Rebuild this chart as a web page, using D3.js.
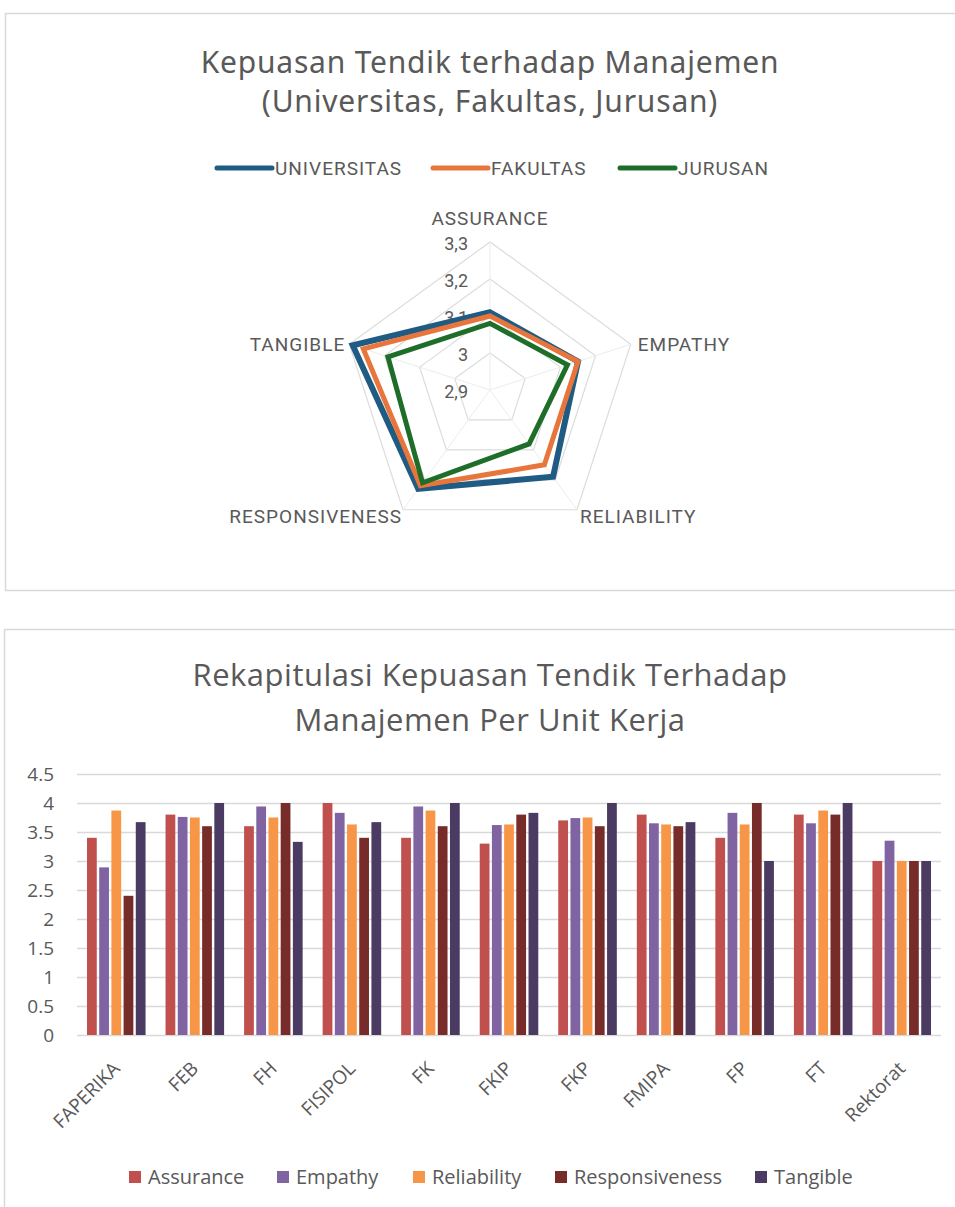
<!DOCTYPE html>
<html>
<head>
<meta charset="utf-8">
<script src="https://cdn.jsdelivr.net/npm/d3@7"></script>
<style>
  body { margin: 0; background: #fff; }
  svg { display: block; }
</style>
</head>
<body>
<div id="graf"></div>
<script>
// -- Datos: radar --
dimensiones = ['ASSURANCE', 'EMPATHY', 'RELIABILITY', 'RESPONSIVENESS', 'TANGIBLE']
niveles = ['UNIVERSITAS', 'FAKULTAS', 'JURUSAN']
universitas = [3.11, 3.15, 3.19, 3.23, 3.29]
fakultas    = [3.10, 3.15, 3.15, 3.22, 3.26]
jurusan     = [3.08, 3.12, 3.08, 3.21, 3.19]
ticksRadar  = [2.9, 3.0, 3.1, 3.2, 3.3]

// -- Datos: barras --
unidades = ['FAPERIKA', 'FEB', 'FH', 'FISIPOL', 'FK', 'FKIP', 'FKP', 'FMIPA', 'FP', 'FT', 'Rektorat']
aspectos = ['Assurance', 'Empathy', 'Reliability', 'Responsiveness', 'Tangible']
assurance      = [3.4, 3.8, 3.6, 4.0, 3.4, 3.3, 3.7, 3.8, 3.4, 3.8, 3.0]
empathy        = [2.89, 3.76, 3.94, 3.83, 3.94, 3.62, 3.74, 3.65, 3.83, 3.65, 3.35]
reliability    = [3.87, 3.75, 3.75, 3.63, 3.87, 3.63, 3.75, 3.63, 3.63, 3.87, 3.0]
responsiveness = [2.4, 3.6, 4.0, 3.4, 3.6, 3.8, 3.6, 3.6, 4.0, 3.8, 3.0]
tangible       = [3.67, 4.0, 3.33, 3.67, 4.0, 3.83, 4.0, 3.67, 3.0, 4.0, 3.0]
ticksBarras = [0, 0.5, 1, 1.5, 2, 2.5, 3, 3.5, 4, 4.5]

ancho_total = 955
alto_total = 1207

svg = d3.select('#graf').append('svg')
        .attr('width', ancho_total)
        .attr('height', alto_total)

gris = '#595959'
borde = '#d9d9d9'

// ================= Radar =================
svg.append('rect')
   .attr('x', 5.5).attr('y', 13.5).attr('width', 960).attr('height', 577)
   .attr('fill', '#fff').attr('stroke', borde).attr('stroke-width', 1.5)

fuenteRadar = 'Roboto, sans-serif'

titulo1 = svg.append('text')
   .attr('x', 490).attr('y', 62).attr('dy', '0.35em')
   .attr('text-anchor', 'middle')
   .style('font-family', 'Noto Sans, sans-serif').style('font-size', '30px')
   .style('letter-spacing', '0.8px')
   .style('fill', gris)
titulo1.append('tspan').attr('x', 490).text('Kepuasan Tendik terhadap Manajemen')
titulo1.append('tspan').attr('x', 490).attr('dy', '1.3em').text('(Universitas, Fakultas, Jurusan)')

colorRadar = d3.scaleOrdinal().domain(niveles).range(['#1f5b82', '#e8763c', '#1e6e2a'])
grosor = {UNIVERSITAS: 6, FAKULTAS: 5, JURUSAN: 5}

// leyenda radar
legX = [217, 433, 620]
ley = svg.append('g')
niveles.forEach((n, i) => {
  ley.append('line')
     .attr('x1', legX[i]).attr('x2', legX[i] + 55)
     .attr('y1', 168).attr('y2', 168)
     .attr('stroke', colorRadar(n)).attr('stroke-width', 5)
     .attr('stroke-linecap', 'round')
  ley.append('text')
     .attr('x', legX[i] + 58).attr('y', 168).attr('dy', '0.36em')
     .style('font-family', fuenteRadar).style('font-size', '19px')
     .style('letter-spacing', '1px')
     .style('fill', gris)
     .text(n)
})

cx = 490, cy = 390, R = 148
r = d3.scaleLinear().domain([2.9, 3.3]).range([0, R])
ang = d3.scaleLinear().domain([0, dimensiones.length]).range([0, 2 * Math.PI])
punto = (i, v) => [cx + r(v) * Math.sin(ang(i)), cy - r(v) * Math.cos(ang(i))]

radar = svg.append('g')
linea = d3.line().curve(d3.curveLinearClosed)

// anillos
ticksRadar.slice(1).forEach(t => {
  radar.append('path')
       .attr('d', linea(dimensiones.map((d, i) => punto(i, t))))
       .attr('fill', 'none').attr('stroke', '#dcdcdc').attr('stroke-width', 1.2)
})
// radios
dimensiones.forEach((d, i) => {
  p = punto(i, 3.3)
  radar.append('line')
       .attr('x1', cx).attr('y1', cy).attr('x2', p[0]).attr('y2', p[1])
       .attr('stroke', '#ececec').attr('stroke-width', 1)
})
// etiquetas de niveles
ticksRadar.forEach(t => {
  radar.append('text')
       .attr('x', cx - 22).attr('y', cy - r(t) + 2).attr('dy', '0.35em')
       .attr('text-anchor', 'end')
       .style('font-family', fuenteRadar).style('font-size', '18px')
       .style('fill', gris)
       .text(d3.format('.1f')(t).replace('.', ',').replace(',0', ''))
})
// etiquetas de ejes
offs = [[0, -24, 'middle'], [7, 0, 'start'], [3, 6, 'start'], [-1, 6, 'end'], [-4, 0, 'end']]
dimensiones.forEach((d, i) => {
  p = punto(i, 3.3)
  radar.append('text')
       .attr('x', p[0] + offs[i][0]).attr('y', p[1] + offs[i][1]).attr('dy', '0.36em')
       .attr('text-anchor', offs[i][2])
       .style('font-family', fuenteRadar).style('font-size', '19px')
       .style('letter-spacing', '1px')
       .style('fill', gris)
       .text(d)
})
// series
series = {UNIVERSITAS: universitas, FAKULTAS: fakultas, JURUSAN: jurusan}
niveles.forEach(n => {
  radar.append('path')
       .attr('d', linea(series[n].map((v, i) => punto(i, v))))
       .attr('fill', 'none')
       .attr('stroke', colorRadar(n))
       .attr('stroke-width', grosor[n])
       .attr('stroke-linejoin', 'miter')
})

// ================= Barras =================
svg.append('rect')
   .attr('x', 4.5).attr('y', 629.5).attr('width', 960).attr('height', 600)
   .attr('fill', '#fff').attr('stroke', borde).attr('stroke-width', 1.5)

fuenteBarras = 'Open Sans, sans-serif'

titulo2 = svg.append('text')
   .attr('x', 490).attr('y', 675).attr('dy', '0.35em')
   .attr('text-anchor', 'middle')
   .style('font-family', fuenteBarras).style('font-size', '31px')
   .style('letter-spacing', '0.5px')
   .style('fill', gris)
titulo2.append('tspan').attr('x', 490).text('Rekapitulasi Kepuasan Tendik Terhadap')
titulo2.append('tspan').attr('x', 490).attr('dy', '1.45em').text('Manajemen Per Unit Kerja')

x0 = d3.scaleBand().domain(unidades).range([77, 941])
x1 = d3.scaleBand().domain(aspectos).range([10, x0.bandwidth() - 10]).paddingInner(0.2)
y = d3.scaleLinear().domain([0, 4.5]).range([1035, 774])
colorBarras = d3.scaleOrdinal().domain(aspectos)
                .range(['#c0504d', '#8064a2', '#f79646', '#772c2a', '#4b3b62'])

g = svg.append('g')

yAxCall = d3.axisLeft(y).tickValues(ticksBarras).tickSize(-(941 - 77)).tickFormat(d3.format(''))
yAxGroup = g.append('g').attr('transform', 'translate(77,0)').call(yAxCall)
yAxGroup.select('.domain').remove()
yAxGroup.selectAll('.tick line').attr('stroke', borde).attr('stroke-width', 1.5)
yAxGroup.selectAll('.tick text')
        .attr('x', -23)
        .style('font-family', fuenteBarras).style('font-size', '19px')
        .style('fill', gris)

valores = {Assurance: assurance, Empathy: empathy, Reliability: reliability,
           Responsiveness: responsiveness, Tangible: tangible}
datos = unidades.map((u, i) => ({unidad: u, vals: aspectos.map(a => ({aspecto: a, valor: valores[a][i]}))}))

grupos = g.selectAll('.grupo').data(datos).enter().append('g')
          .attr('transform', d => `translate(${x0(d.unidad)},0)`)
grupos.selectAll('rect').data(d => d.vals).enter().append('rect')
      .attr('x', d => x1(d.aspecto))
      .attr('width', x1.bandwidth())
      .attr('y', d => y(d.valor))
      .attr('height', d => y(0) - y(d.valor))
      .attr('fill', d => colorBarras(d.aspecto))

xAxGroup = g.append('g').attr('transform', 'translate(0,1035)')
                .call(d3.axisBottom(x0).tickSize(0))
xAxGroup.select('.domain').remove()
xAxGroup.selectAll('.tick text')
        .attr('text-anchor', 'end')
        .attr('transform', 'translate(0,30) rotate(-45)')
        .attr('dy', '0.35em').attr('y', 0)
        .style('font-family', fuenteBarras).style('font-size', '19px')
        .style('fill', gris)

// leyenda barras
legBX = [129, 277, 413, 555, 755]
aspectos.forEach((a, i) => {
  g.append('rect')
   .attr('x', legBX[i]).attr('y', 1171).attr('width', 12).attr('height', 12)
   .attr('fill', colorBarras(a))
  g.append('text')
   .attr('x', legBX[i] + 19).attr('y', 1177).attr('dy', '0.35em')
   .style('font-family', fuenteBarras).style('font-size', '20px')
   .style('fill', gris)
   .text(a)
})
</script>
</body>
</html>
